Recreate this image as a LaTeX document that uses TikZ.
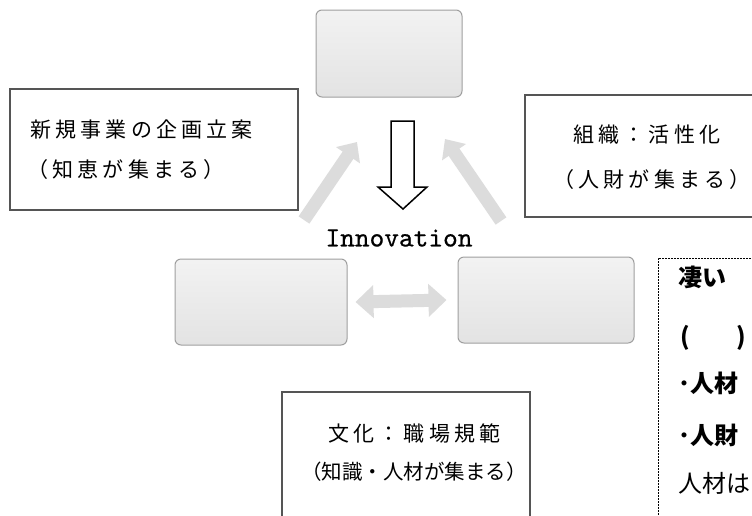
\documentclass[tikz,border=0pt]{standalone}
\usepackage{fontspec}
\newfontfamily\jp{Noto Sans CJK JP}
\newfontfamily\jpsp{Noto Sans CJK JP}[LetterSpace=20]
\newfontfamily\mono{lmmono10-regular.otf}[FakeBold=0.6]
\usetikzlibrary{arrows.meta}
\definecolor{boxline}{HTML}{555555}
\definecolor{lightarrow}{HTML}{DCDCDC}
\tikzset{
  panel/.style={draw=gray!75, line width=1pt, rounded corners=6pt, top color=gray!10, bottom color=gray!22},
  textbox/.style={draw=boxline, line width=1.3pt, fill=white},
  lbl/.style={anchor=west, inner sep=0pt, font=\jpsp\fontsize{21}{23}\selectfont},
  boldlbl/.style={anchor=west, inner sep=0pt, font=\jp\bfseries\fontsize{24}{26}\selectfont},
  softarrow/.style={lightarrow, line width=13pt},
}
\begin{document}
\begin{tikzpicture}[x=1pt,y=-1pt]
\useasboundingbox (0,0) rectangle (752,515);
\clip (0,0) rectangle (752,515);
\fill[white] (0,0) rectangle (752,515);

% rounded panels
\node[panel, minimum width=146pt, minimum height=87pt] (top) at (389,53.5) {};
\node[panel, minimum width=172pt, minimum height=86pt] (bl) at (261,302) {};
\node[panel, minimum width=176pt, minimum height=86pt] (br) at (546,300) {};

% text boxes
\draw[textbox] (10,89) rectangle (298,210);
\node[lbl] (t1a) at (30,130) {新規事業の企画立案};
\node[lbl] (t1b) at (27,170) {（知恵が集まる）};

\draw[textbox] (525,95) rectangle (760,217);
\node[lbl] (t2a) at (573,135) {組織：活性化};
\node[lbl] (t2b) at (553,180) {（人財が集まる）};

\draw[textbox] (282,392) rectangle (530,530);
\node[lbl] (t3a) at (328,433) {文化：職場規範};
\node[anchor=west, inner sep=0pt, font=\jp\fontsize{20.5}{22}\selectfont] (t3b) at (301,472) {（知識・人材が集まる）};

% soft arrows
\coordinate (la0) at (304,220);
\coordinate (la1) at (357,142);
\coordinate (ra0) at (501,221);
\coordinate (ra1) at (445,139);
\draw[softarrow, -{Triangle[width=28pt,length=16pt]}] (la0) -- (la1);
\draw[softarrow, -{Triangle[width=28pt,length=16pt]}] (ra0) -- (ra1);
\draw[softarrow, {Triangle[width=32pt,length=18pt]}-{Triangle[width=32pt,length=18pt]}] ([xshift=8pt]bl.east) -- ([xshift=-11pt]br.west);

% hollow down arrow
\draw[line width=1.5pt, fill=white, line join=miter]
  (391,121) -- (414,121) -- (414,187) -- (427,187) -- (403,209) -- (378,187) -- (391,187) -- cycle;

% Innovation
\node[inner sep=0pt, font=\mono\fontsize{28}{30}\selectfont] (inn) at (399,238) {Innovation};

% dashed box
\draw[line width=1pt, dash pattern=on 2pt off 1pt] (760,258) -- (658,258) -- (658,530);
\node[boldlbl] (d1) at (678,277) {凄い};
\node[boldlbl] (d2) at (680,338) {(\hspace{47pt})};
\node[boldlbl] (d3) at (678,383) {･人材};
\node[boldlbl] (d4) at (678,435) {･人財};
\node[anchor=west, inner sep=0pt, font=\jp\fontsize{24}{26}\selectfont] (d5) at (678,483) {人材は};
\end{tikzpicture}
\end{document}
